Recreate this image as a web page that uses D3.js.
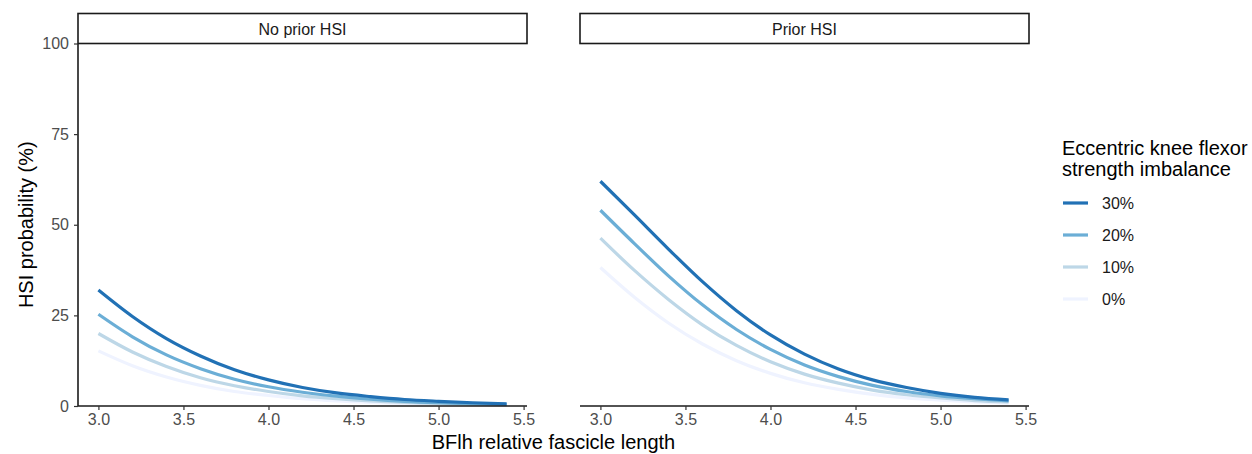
<!DOCTYPE html>
<html>
<head>
<meta charset="utf-8">
<script src="https://cdn.jsdelivr.net/npm/d3@7"></script>
<style>
  body { margin: 0; background: #fff; }
  text { font-family: "Liberation Sans", Arial, sans-serif; }
</style>
</head>
<body>
<div id="chart"></div>
<script>
// fascicle length grid (x)
var fascicle = [3.0, 3.2, 3.4, 3.6, 3.8, 4.0, 4.2, 4.4, 4.6, 4.8, 5.0, 5.2, 5.4];

var panels = ['No prior HSI', 'Prior HSI'];
var imbalance = ['30%', '20%', '10%', '0%'];
var colours = ['#2171b5', '#6baed6', '#bdd7e7', '#eff3ff'];

// HSI probability (%)
var noPrior30 = [32.0, 24.7, 18.6, 13.8, 10.0, 7.2, 5.1, 3.6, 2.6, 1.8, 1.3, 0.9, 0.6];
var noPrior20 = [25.3, 19.1, 14.1, 10.3, 7.4, 5.3, 3.8, 2.7, 1.9, 1.3, 0.9, 0.6, 0.45];
var noPrior10 = [20.0, 14.9, 10.9, 7.8, 5.6, 4.0, 2.8, 2.0, 1.4, 1.0, 0.7, 0.5, 0.33];
var noPrior0  = [15.2, 11.1, 8.0, 5.7, 4.0, 2.9, 2.0, 1.4, 1.0, 0.7, 0.5, 0.35, 0.24];

var prior30 = [62.0, 52.7, 43.3, 34.3, 26.3, 19.6, 14.3, 10.2, 7.2, 5.1, 3.5, 2.4, 1.7];
var prior20 = [54.0, 44.8, 35.9, 27.9, 21.1, 15.6, 11.3, 8.1, 5.7, 4.0, 2.8, 2.0, 1.4];
var prior10 = [46.3, 37.4, 29.4, 22.4, 16.7, 12.2, 8.8, 6.3, 4.4, 3.1, 2.2, 1.5, 1.1];
var prior0  = [38.2, 30.0, 22.9, 17.1, 12.5, 9.0, 6.4, 4.6, 3.2, 2.2, 1.6, 1.1, 0.8];

var xTicks = [3.0, 3.5, 4.0, 4.5, 5.0, 5.5];
var yTicks = [0, 25, 50, 75, 100];

var series = [
  [noPrior30, noPrior20, noPrior10, noPrior0],
  [prior30, prior20, prior10, prior0]
];

(function(){
  var W = 1252, H = 454;
  var svg = d3.select('#chart').append('svg')
    .attr('width', W).attr('height', H);

  var panelLeft = [78, 580], panelW = 449;
  var plotTop = 43.5, plotBottom = 406;
  var tickFont = '"Liberation Sans", Arial, sans-serif';

  var y = d3.scaleLinear().domain([0, 100]).range([plotBottom, plotTop]);
  var line = d3.line().curve(d3.curveMonotoneX);

  panels.forEach(function(name, i){
    var x = d3.scaleLinear().domain([2.88, 5.52]).range([panelLeft[i], panelLeft[i] + panelW]);
    var g = svg.append('g');

    // strip
    g.append('rect')
      .attr('x', panelLeft[i]).attr('y', 13.5)
      .attr('width', panelW).attr('height', 30)
      .attr('fill', '#fff').attr('stroke', '#1a1a1a').attr('stroke-width', 1.6);
    g.append('text')
      .attr('x', panelLeft[i] + panelW / 2).attr('y', 34.5)
      .attr('text-anchor', 'middle').style('font-size', '16px').attr('fill', '#1a1a1a')
      .text(name);

    // lines, light first so darker ones sit on top
    for (var k = imbalance.length - 1; k >= 0; k--) {
      var vals = series[i][k];
      g.append('path')
        .attr('d', line(fascicle.map(function(f, j){ return [x(f), y(vals[j])]; })))
        .attr('fill', 'none').attr('stroke', colours[k]).attr('stroke-width', 3.2);
    }

    // x axis
    var xa = g.append('g').attr('transform', 'translate(0,' + plotBottom + ')')
      .call(d3.axisBottom(x).tickValues(xTicks).tickFormat(d3.format('.1f')).tickSize(4).tickPadding(4));
    xa.select('.domain').attr('stroke', '#1a1a1a').attr('stroke-width', 1.6)
      .attr('d', 'M' + panelLeft[i] + ',0H' + (panelLeft[i] + panelW));
    xa.selectAll('.tick line').attr('stroke', '#333').attr('stroke-width', 1.2);
    xa.selectAll('.tick text').style('font-size', '16px').attr('fill', '#4d4d4d')
      .style('font-family', tickFont);

    // y axis only on the first panel
    if (i === 0) {
      var ya = g.append('g').attr('transform', 'translate(' + panelLeft[i] + ',0)')
        .call(d3.axisLeft(y).tickValues(yTicks).tickSize(4).tickPadding(5));
      ya.select('.domain').attr('stroke', '#1a1a1a').attr('stroke-width', 1.6)
        .attr('d', 'M0,' + plotTop + 'V' + plotBottom);
      ya.selectAll('.tick line').attr('stroke', '#333').attr('stroke-width', 1.2);
      ya.selectAll('.tick text').style('font-size', '16px').attr('fill', '#4d4d4d')
        .style('font-family', tickFont);
    }
  });

  // axis titles
  svg.append('text')
    .attr('x', (panelLeft[0] + panelLeft[1] + panelW) / 2).attr('y', 448.5)
    .attr('text-anchor', 'middle').style('font-size', '20px').attr('fill', '#000')
    .text('BFlh relative fascicle length');
  svg.append('text')
    .attr('transform', 'translate(33,' + ((plotTop + plotBottom) / 2) + ') rotate(-90)')
    .attr('text-anchor', 'middle').style('font-size', '20px').attr('fill', '#000')
    .text('HSI probability (%)');

  // legend
  var leg = svg.append('g').attr('transform', 'translate(1062,0)');
  leg.append('text').attr('x', 0).attr('y', 155).style('font-size', '20px').attr('fill', '#000')
    .text('Eccentric knee flexor');
  leg.append('text').attr('x', 0).attr('y', 176).style('font-size', '20px').attr('fill', '#000')
    .text('strength imbalance');
  imbalance.forEach(function(lab, k){
    var yy = 203 + k * 32;
    leg.append('line').attr('x1', 1).attr('x2', 26).attr('y1', yy).attr('y2', yy)
      .attr('stroke', colours[k]).attr('stroke-width', 3.2);
    leg.append('text').attr('x', 40).attr('y', yy + 6).style('font-size', '16px').attr('fill', '#1a1a1a')
      .text(lab);
  });
})();
</script>
</body>
</html>
